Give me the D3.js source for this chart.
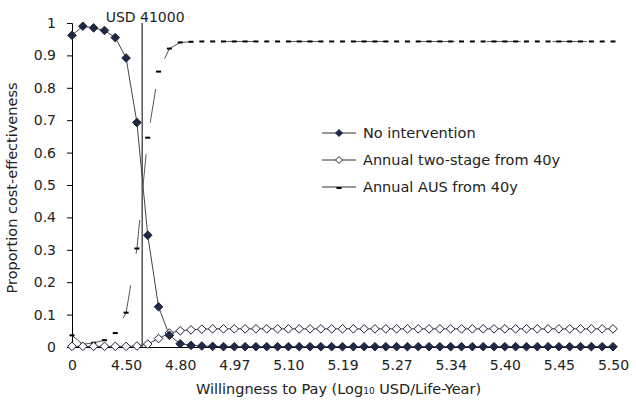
<!DOCTYPE html>
<html>
<head>
<meta charset="utf-8">
<script src="https://cdn.jsdelivr.net/npm/d3@7"></script>
<style>
  body { margin: 0; background: #fff; }
  svg text { font-family: "DejaVu Sans", Verdana, sans-serif; fill: #222; }
</style>
</head>
<body>
<div id="chart"></div>
<script>
// willingness to pay, 51 categories on a linear USD grid, labelled in log10
const maxWtp = 316228;
const nPoints = 51;
const xTickLabels = ['0', '4.50', '4.80', '4.97', '5.10', '5.19', '5.27', '5.34', '5.40', '5.45', '5.50'];
const thresholdUsd = 41000;
const thresholdLabel = 'USD 41000';

const seriesNames = ['No intervention', 'Annual two-stage from 40y', 'Annual AUS from 40y'];

const noIntervention = [
  0.962, 0.990, 0.985, 0.977, 0.955, 0.892, 0.693, 0.345, 0.124, 0.036,
  0.010, 0.005, 0.003, 0.002, 0.001, 0.001, 0.001, 0.001, 0.001, 0.001,
  0.001, 0.001, 0.001, 0.001, 0.001, 0.001, 0.001, 0.001, 0.001, 0.001,
  0.001, 0.001, 0.001, 0.001, 0.001, 0.001, 0.001, 0.001, 0.001, 0.001,
  0.001, 0.001, 0.001, 0.001, 0.001, 0.001, 0.001, 0.001, 0.001, 0.001,
  0.001
];

const twoStage = [
  0.002, 0.002, 0.002, 0.002, 0.002, 0.002, 0.003, 0.009, 0.026, 0.043,
  0.050, 0.053, 0.055, 0.056, 0.056, 0.056, 0.056, 0.056, 0.056, 0.056,
  0.056, 0.056, 0.056, 0.056, 0.056, 0.056, 0.056, 0.056, 0.056, 0.056,
  0.056, 0.056, 0.056, 0.056, 0.056, 0.056, 0.056, 0.056, 0.056, 0.056,
  0.056, 0.056, 0.056, 0.056, 0.056, 0.056, 0.056, 0.056, 0.056, 0.056,
  0.056
];

const annualAus = [
  0.036, 0.008, 0.013, 0.021, 0.043, 0.106, 0.304, 0.646, 0.850, 0.921,
  0.940, 0.942, 0.943, 0.943, 0.943, 0.943, 0.943, 0.943, 0.943, 0.943,
  0.943, 0.943, 0.943, 0.943, 0.943, 0.943, 0.943, 0.943, 0.943, 0.943,
  0.943, 0.943, 0.943, 0.943, 0.943, 0.943, 0.943, 0.943, 0.943, 0.943,
  0.943, 0.943, 0.943, 0.943, 0.943, 0.943, 0.943, 0.943, 0.943, 0.943,
  0.943
];

const yTicks = [0, 0.1, 0.2, 0.3, 0.4, 0.5, 0.6, 0.7, 0.8, 0.9, 1];

const width = 636, height = 404;
const margin = {top: 23, right: 23, bottom: 57, left: 72};

const svg = d3.select('#chart').append('svg')
  .attr('width', width)
  .attr('height', height);

const idx = d3.range(nPoints);
const xScale = d3.scalePoint().domain(idx).range([margin.left, width - margin.right]);
const yScale = d3.scaleLinear().domain([0, 1]).range([height - margin.bottom, margin.top]);
const wtpScale = d3.scaleLinear().domain([0, maxWtp]).range([xScale(0), xScale(nPoints - 1)]);

// y axis
const yAxis = svg.append('g')
  .attr('transform', `translate(${margin.left},0)`)
  .call(d3.axisLeft(yScale).tickValues(yTicks).tickSize(5).tickPadding(11)
    .tickFormat(d => d === 0 || d === 1 ? d3.format('d')(d) : d3.format('.1f')(d)));
yAxis.select('.domain').attr('stroke', '#000');
yAxis.selectAll('.tick line').attr('stroke', '#000');
yAxis.selectAll('.tick text').style('font-size', '14px').attr('fill', '#222');

// x axis, labels on every 5th category
const xAxis = svg.append('g')
  .attr('transform', `translate(0,${yScale(0)})`)
  .call(d3.axisBottom(xScale).tickValues(idx.filter(i => i % 5 === 0)).tickSize(0).tickPadding(13)
    .tickFormat(i => xTickLabels[i / 5]));
xAxis.select('.domain').attr('stroke', '#000');
xAxis.selectAll('.tick text').style('font-size', '14px').attr('fill', '#222');

// axis titles
svg.append('text')
  .attr('transform', `translate(17,${yScale(0.5) + 3}) rotate(-90)`)
  .attr('text-anchor', 'middle')
  .style('font-size', '14.5px')
  .text('Proportion cost-effectiveness');

const xt = svg.append('text')
  .attr('x', (xScale(0) + xScale(nPoints - 1)) / 2 - 4)
  .attr('y', 394)
  .attr('text-anchor', 'middle')
  .style('font-size', '14.5px');
xt.append('tspan').text('Willingness to Pay (Log');
xt.append('tspan').style('font-size', '9px').text('10');
xt.append('tspan').text(' USD/Life-Year)');

// threshold line
svg.append('line')
  .attr('x1', wtpScale(thresholdUsd)).attr('x2', wtpScale(thresholdUsd))
  .attr('y1', yScale(1)).attr('y2', yScale(0))
  .attr('stroke', '#000').attr('stroke-width', 1);
svg.append('text')
  .attr('x', wtpScale(thresholdUsd) + 3)
  .attr('y', 22)
  .attr('text-anchor', 'middle')
  .style('font-size', '14px')
  .text(thresholdLabel);

const line = d3.line()
  .x((d, i) => xScale(i))
  .y(d => yScale(d));

// excel style diamond: square turned 45 degrees
const diamond = 'M0,-4.3L4.3,0L0,4.3L-4.3,0Z';

// AUS series: dashed grey line with small bar markers
svg.append('path')
  .datum(annualAus)
  .attr('d', line)
  .attr('fill', 'none')
  .attr('stroke', '#555')
  .attr('stroke-width', 1)
  .attr('stroke-dasharray', '34,32');
svg.append('g').selectAll('rect')
  .data(annualAus)
  .join('rect')
  .attr('x', (d, i) => xScale(i) - 2.5)
  .attr('y', d => yScale(d) - 1)
  .attr('width', 5)
  .attr('height', 2)
  .attr('fill', '#000');

// two-stage series: hollow diamonds
svg.append('path')
  .datum(twoStage)
  .attr('d', line)
  .attr('fill', 'none')
  .attr('stroke', '#444')
  .attr('stroke-width', 1);
svg.append('g').selectAll('path')
  .data(twoStage)
  .join('path')
  .attr('d', diamond)
  .attr('transform', (d, i) => `translate(${xScale(i)},${yScale(d)})`)
  .attr('fill', '#fff')
  .attr('stroke', '#1b2238')
  .attr('stroke-width', 1);

// no intervention: filled navy diamonds
svg.append('path')
  .datum(noIntervention)
  .attr('d', line)
  .attr('fill', 'none')
  .attr('stroke', '#444')
  .attr('stroke-width', 1);
svg.append('g').selectAll('path')
  .data(noIntervention)
  .join('path')
  .attr('d', diamond)
  .attr('transform', (d, i) => `translate(${xScale(i)},${yScale(d)})`)
  .attr('fill', '#1f2845')
  .attr('stroke', '#1b2238')
  .attr('stroke-width', 1);

// legend
const legend = svg.append('g').attr('transform', 'translate(322,133)');
seriesNames.forEach((name, i) => {
  const row = legend.append('g').attr('transform', `translate(0,${i * 27})`);
  row.append('line').attr('x1', 0).attr('x2', 34).attr('y1', 0).attr('y2', 0)
    .attr('stroke', '#333').attr('stroke-width', 1);
  if (i === 2) {
    row.append('rect').attr('x', 14.5).attr('y', 0).attr('width', 5).attr('height', 2).attr('fill', '#000');
  } else {
    row.append('path').attr('d', 'M0,-3.5L3.5,0L0,3.5L-3.5,0Z').attr('transform', 'translate(17,0)')
      .attr('fill', i === 0 ? '#1f2845' : '#fff').attr('stroke', '#1b2238');
  }
  row.append('text').attr('x', 41).attr('y', 5).style('font-size', '14.5px').text(name);
});
</script>
</body>
</html>
